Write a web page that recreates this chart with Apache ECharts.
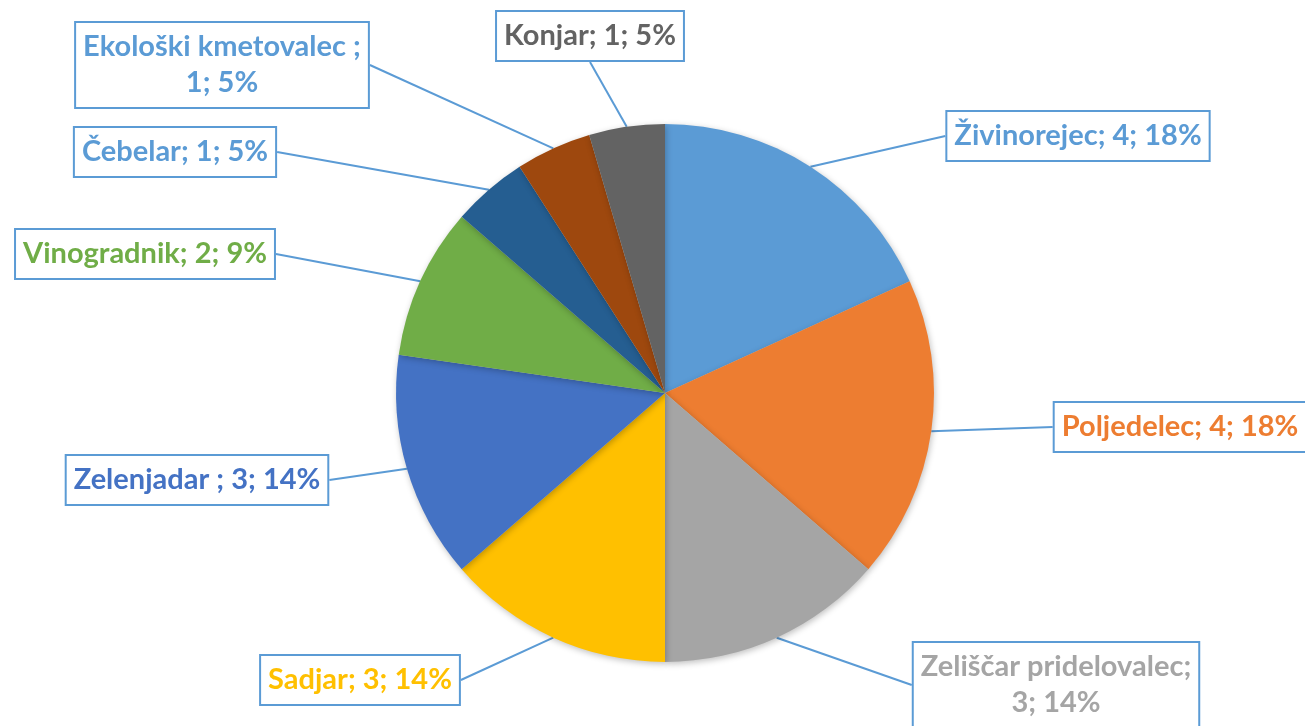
<!DOCTYPE html>
<html>
<head>
<meta charset="utf-8">
<script src="https://cdn.jsdelivr.net/npm/echarts@6/dist/echarts.min.js"></script>
<style>
  html, body { margin: 0; padding: 0; background: #fff; }
  #chart { width: 1305px; height: 726px; }
</style>
</head>
<body>
<div id="chart"></div>
<script>
// podatki
const names = ["Živinorejec", "Poljedelec", "Zeliščar pridelovalec", "Sadjar", "Zelenjadar ", "Vinogradnik", "Čebelar", "Ekološki kmetovalec ", "Konjar"];
const values = [4, 4, 3, 3, 3, 2, 1, 1, 1];
const sliceColors = ["#5B9BD5", "#ED7D31", "#A5A5A5", "#FFC000", "#4472C4", "#70AD47", "#255E91", "#9E480E", "#636363"];
const textColors = ["#5B9BD5", "#ED7D31", "#A5A5A5", "#FFC000", "#4472C4", "#70AD47", "#5B9BD5", "#5B9BD5", "#636363"];
// kje se oznaka prelomi v dve vrstici
const wrapped = [false, false, true, false, false, false, false, true, false];
// središča oznak (postavitev)
const labelPos = [[1078, 136], [1180, 427], [1056, 685], [360, 680], [197, 480], [145, 254], [175, 152], [222, 65], [590, 36]];

const total = values.reduce((a, b) => a + b, 0);

let chart = echarts.init(document.getElementById("chart"));
chart.setOption({
  animation: false,
  series: [
    {
      type: "pie",
      center: [665, 393],
      radius: 269,
      startAngle: 90,
      clockwise: true,
      data: names.map((n, i) => ({
        name: n,
        value: values[i],
        itemStyle: { color: sliceColors[i] },
        label: { color: textColors[i] },
      })),
      itemStyle: {
        borderWidth: 0,
        shadowBlur: 6,
        shadowColor: "rgba(0,0,0,0.25)",
        shadowOffsetX: 1,
        shadowOffsetY: 2,
      },
      label: {
        show: true,
        position: "outside",
        fontFamily: "Lato",
        fontWeight: "bold",
        fontSize: 29,
        lineHeight: 36,
        align: "center",
        backgroundColor: "#fff",
        borderColor: "#5B9BD5",
        borderWidth: 2,
        padding: [6, 7, 6, 7],
        formatter: function (p) {
          let pct = Math.round((p.value / total) * 100);
          let sep = wrapped[p.dataIndex] ? "\n" : " ";
          return p.name + ";" + sep + p.value + "; " + pct + "%";
        },
      },
      labelLine: {
        show: true,
        length: 10,
        length2: 0,
        lineStyle: { color: "#5B9BD5", width: 2 },
      },
      labelLayout: function (p) {
        let pos = labelPos[p.dataIndex];
        return { x: pos[0], y: pos[1], align: "center", verticalAlign: "middle" };
      },
    },
  ],
});
</script>
</body>
</html>
